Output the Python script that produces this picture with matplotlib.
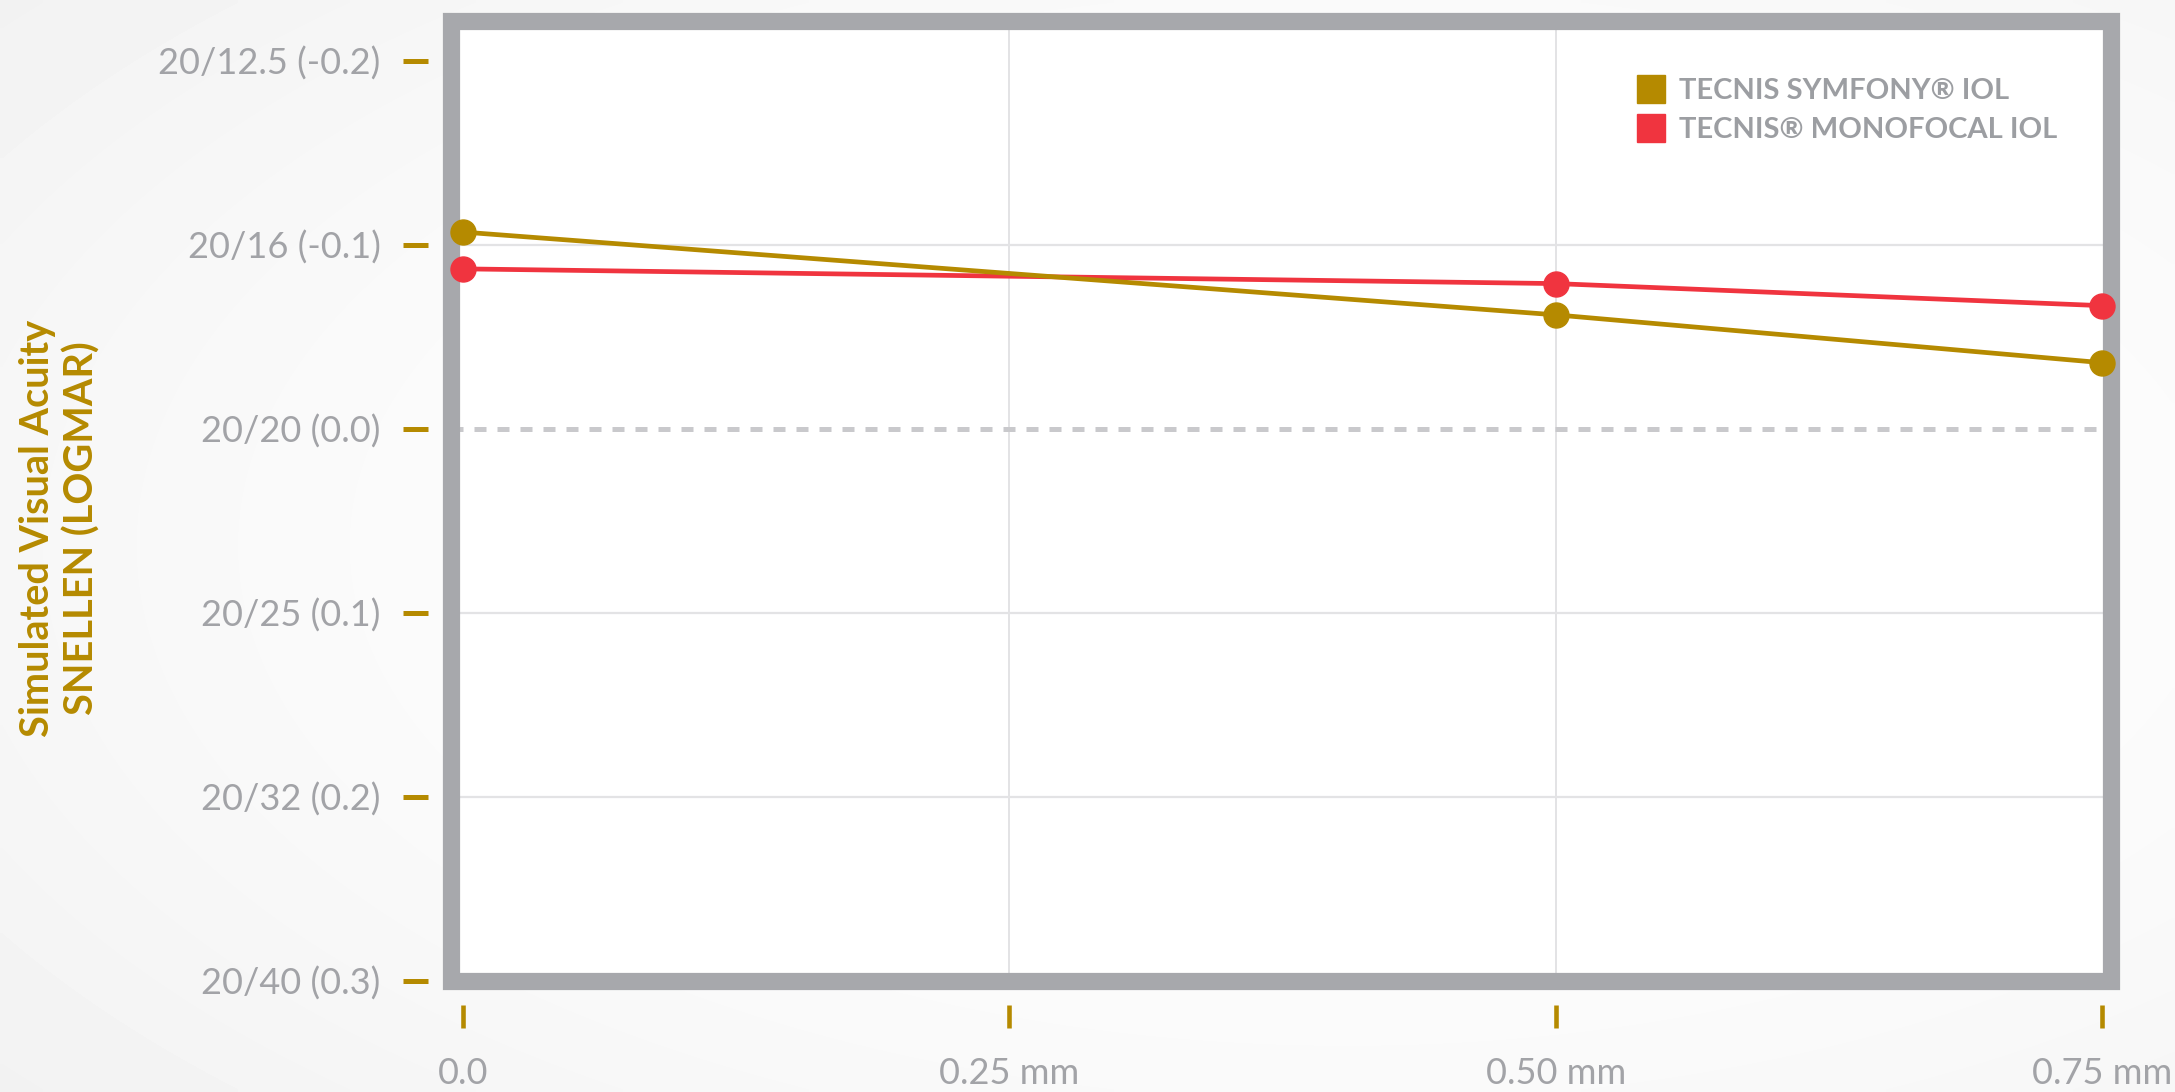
import numpy as np
import matplotlib
matplotlib.use("Agg")
import matplotlib.pyplot as plt
from matplotlib.patches import Rectangle
from matplotlib.lines import Line2D

# Decentration (mm) and simulated visual acuity (logMAR)
distance_mm = [0.0, 0.5, 0.75]
symfony_logmar = [-0.107, -0.062, -0.036]
monofocal_logmar = [-0.087, -0.079, -0.067]
series_names = ["TECNIS SYMFONY® IOL", "TECNIS® MONOFOCAL IOL"]

y_ticks = [-0.2, -0.1, 0.0, 0.1, 0.2, 0.3]
y_tick_labels = ["20/12.5 (-0.2)", "20/16 (-0.1)", "20/20 (0.0)",
                 "20/25 (0.1)", "20/32 (0.2)", "20/40 (0.3)"]
x_ticks = [0.0, 0.25, 0.5, 0.75]
x_tick_labels = ["0.0", "0.25 mm", "0.50 mm", "0.75 mm"]
grid_y = [-0.1, 0.1, 0.2]
grid_x = [0.25, 0.5]
reference_logmar = 0.0

GOLD = "#b58a00"
RED = "#f0343f"
FRAME = "#a7a8ac"
TEXT_GRAY = "#a2a3a7"
GRID = "#e3e3e5"

plt.rcParams["font.family"] = ["Lato", "DejaVu Sans"]

W, H, DPI = 2175, 1092, 100
fig = plt.figure(figsize=(W / DPI, H / DPI), dpi=DPI)

# soft light-grey backdrop, brighter toward the centre
bg = fig.add_axes([0, 0, 1, 1], zorder=-10)
yy, xx = np.mgrid[0:1:200j, 0:1:400j]
r = np.sqrt(((xx - 0.62) / 0.8) ** 2 + ((yy - 0.5) / 0.8) ** 2)
shade = 0.997 - 0.05 * np.clip(r, 0, 1) ** 2
bg.imshow(shade, cmap="gray", vmin=0, vmax=1, aspect="auto",
          extent=[0, 1, 0, 1], interpolation="bilinear")
bg.axis("off")

ax = fig.add_axes([451 / W, 1 - 981 / H, (2111 - 451) / W, (981 - 21) / H])
ax.set_facecolor("white")
ax.set_xlim(-0.0055, 0.754)
ax.set_ylim(0.3, -0.2217)

for s in ax.spines.values():
    s.set_visible(False)
ax.spines["left"].set_position(("outward", 16.6))
ax.spines["bottom"].set_position(("outward", 17.3))

# grid and 20/20 reference line
for gy in grid_y:
    ax.axhline(gy, color=GRID, lw=1.6, zorder=1)
for gx in grid_x:
    ax.axvline(gx, color=GRID, lw=1.4, zorder=1)
ax.axhline(reference_logmar, color="#c9c9cc", lw=3.6, ls=(0, (2.4, 2.2)),
           zorder=1)

# thick frame round the plotting area
ax.add_patch(Rectangle((0, 0), 1, 1, transform=ax.transAxes, fill=False,
                       ec=FRAME, lw=12.4, joinstyle="miter", clip_on=False,
                       zorder=3))

ax.plot(distance_mm, monofocal_logmar, color=RED, lw=3.4, marker="o", ms=18,
        zorder=4, clip_on=False)
ax.plot(distance_mm, symfony_logmar, color=GOLD, lw=3.4, marker="o", ms=18,
        zorder=5, clip_on=False)

ax.set_yticks(y_ticks)
ax.set_yticklabels(y_tick_labels)
ax.set_xticks(x_ticks)
ax.set_xticklabels(x_tick_labels)
ax.tick_params(axis="y", direction="out", length=18, width=3.6, color=GOLD,
               labelcolor=TEXT_GRAY, labelsize=26, pad=16)
ax.tick_params(axis="x", direction="out", length=16.6, width=3.3, color=GOLD,
               labelcolor=TEXT_GRAY, labelsize=26, pad=21)

fig.text(60 / W, 1 - 528 / H, "Simulated Visual Acuity\nSNELLEN (LOGMAR)",
         rotation=90, ha="center", va="center", ma="center",
         color=GOLD, fontsize=28.5, fontweight="bold", linespacing=1.2)

handles = [Line2D([], [], ls="", marker="s", ms=19.5, color=c)
           for c in (GOLD, RED)]
ax.legend(handles, series_names, loc="upper left",
          bbox_to_anchor=(0.7145, 0.9405), frameon=False,
          prop={"size": 21, "weight": "bold"}, labelcolor="#9c9ea2",
          handlelength=0.95, handletextpad=0.48, labelspacing=0.45,
          borderaxespad=0, borderpad=0)

fig.savefig("out.png", dpi=DPI)
